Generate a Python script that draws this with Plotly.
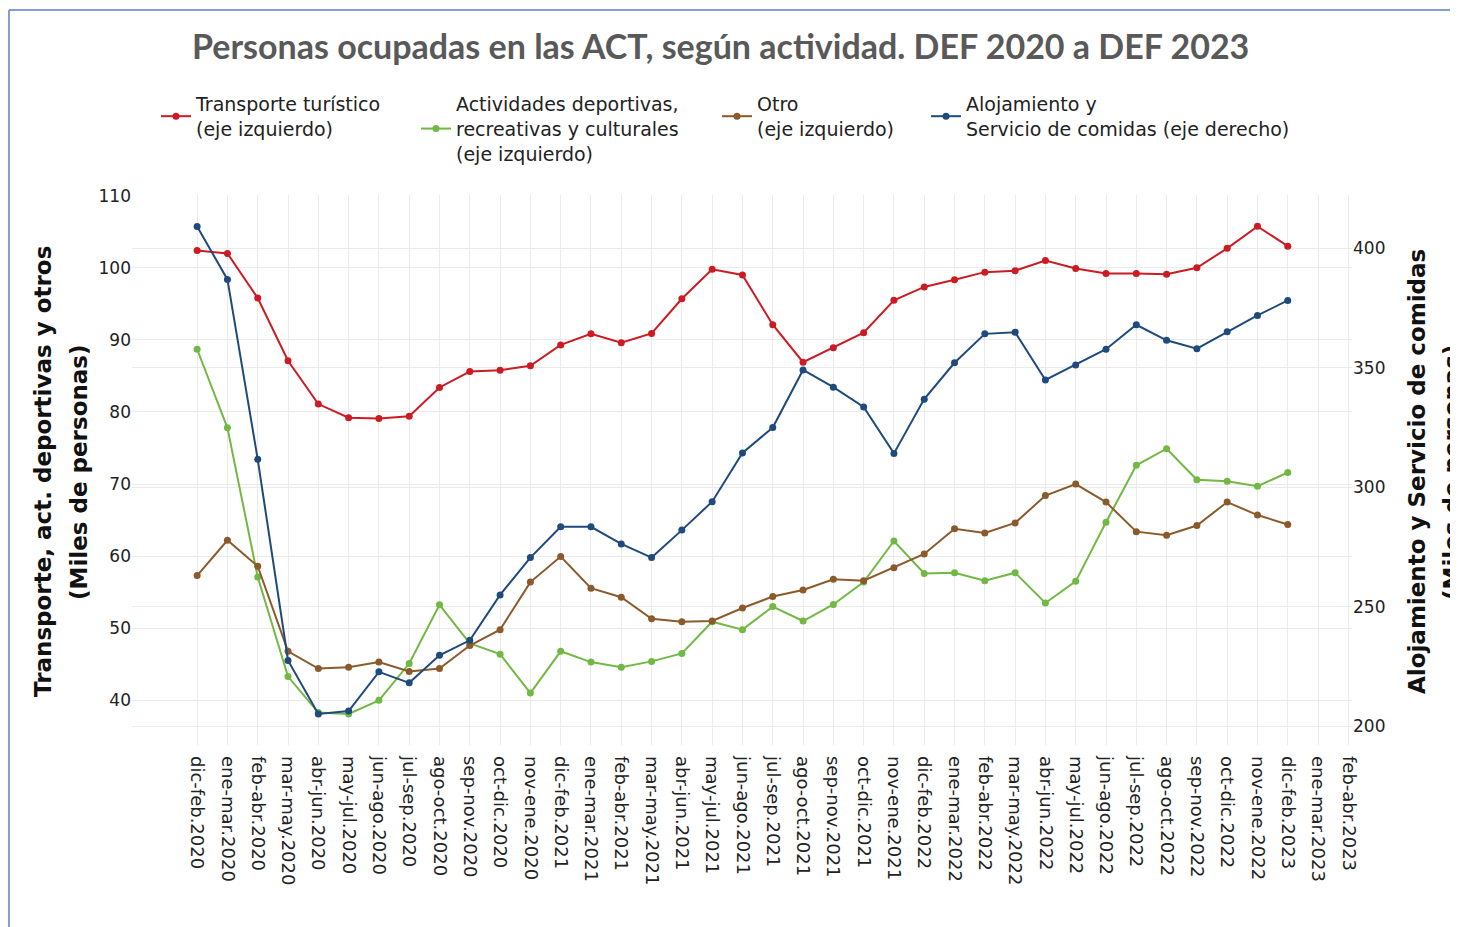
import plotly.graph_objects as go

categorias = [
    "dic-feb.2020", "ene-mar.2020", "feb-abr.2020", "mar-may.2020", "abr-jun.2020",
    "may-jul.2020", "jun-ago.2020", "jul-sep.2020", "ago-oct.2020", "sep-nov.2020",
    "oct-dic.2020", "nov-ene.2020", "dic-feb.2021", "ene-mar.2021", "feb-abr.2021",
    "mar-may.2021", "abr-jun.2021", "may-jul.2021", "jun-ago.2021", "jul-sep.2021",
    "ago-oct.2021", "sep-nov.2021", "oct-dic.2021", "nov-ene.2021", "dic-feb.2022",
    "ene-mar.2022", "feb-abr.2022", "mar-may.2022", "abr-jun.2022", "may-jul.2022",
    "jun-ago.2022", "jul-sep.2022", "ago-oct.2022", "sep-nov.2022", "oct-dic.2022",
    "nov-ene.2022", "dic-feb.2023", "ene-mar.2023", "feb-abr.2023",
]

transporte = [102.4, 102.0, 95.8, 87.1, 81.1, 79.2, 79.1, 79.4, 83.4, 85.6, 85.8, 86.4,
              89.3, 90.85, 89.6, 90.9, 95.7, 99.8, 99.0, 92.1, 86.9, 88.9, 91.0, 95.5,
              97.35, 98.35, 99.4, 99.6, 101.0, 99.9, 99.2, 99.2, 99.1, 100.0, 102.7, 105.75, 103.0]

actividades = [88.7, 77.8, 57.1, 43.3, 38.3, 38.1, 40.0, 45.1, 53.25, 47.9, 46.4, 41.0,
               46.8, 45.3, 44.6, 45.4, 46.5, 50.9, 49.8, 53.0, 51.0, 53.3, 56.4, 62.1,
               57.6, 57.7, 56.6, 57.7, 53.5, 56.5, 64.7, 72.6, 74.9, 70.6, 70.4, 69.7, 71.6]

otro = [57.3, 62.2, 58.6, 46.8, 44.4, 44.6, 45.3, 44.0, 44.4, 47.6, 49.8, 56.4,
        59.95, 55.55, 54.3, 51.3, 50.9, 51.0, 52.8, 54.4, 55.3, 56.8, 56.6, 58.4,
        60.3, 63.8, 63.2, 64.6, 68.4, 70.0, 67.5, 63.4, 62.9, 64.25, 67.5, 65.7, 64.4]

alojamiento = [409.0, 386.9, 311.6, 227.5, 205.1, 206.3, 222.7, 218.1, 229.6, 235.9, 254.9, 270.5,
               283.4, 283.4, 276.2, 270.5, 282.0, 293.9, 314.3, 324.9, 349.0, 341.8, 333.5, 314.1,
               336.8, 352.0, 364.1, 364.8, 344.8, 351.1, 357.7, 367.9, 361.4, 357.9, 365.0, 371.8, 378.1]

nombres = [
    "Transporte turístico<br>(eje izquierdo)",
    "Actividades deportivas,<br>recreativas y culturales<br>(eje izquierdo)",
    "Otro<br>(eje izquierdo)",
    "Alojamiento y<br>Servicio de comidas (eje derecho)",
]
colores = ["#CC1B22", "#72B844", "#8B5A2B", "#1F4A7C"]

# page offset of the plot div (default body margin)
OFF = 8
FW, FH = 1458 - OFF, 927 - OFF
# plot area in page pixels
L, R, T, B = 132, 1352, 195, 745


def px(x):
    return (x - L) / (R - L)


def py(y):
    return (B - y) / (B - T)


n = len(transporte)
x = categorias[:n]

fig = go.Figure()
series = [(transporte, "y"), (actividades, "y"), (otro, "y"), (alojamiento, "y2")]
for i, (vals, ax) in enumerate(series):
    fig.add_trace(go.Scatter(
        x=x, y=vals, name=nombres[i], yaxis=ax, mode="lines+markers",
        line=dict(color=colores[i], width=2),
        marker=dict(color=colores[i], size=7),
        legend="legend" if i == 0 else f"legend{i+1}",
    ))

font_fam = "DejaVu Sans"
leg_x = [156, 416, 717, 926]
leg_common = dict(orientation="v", xanchor="left", yanchor="top",
                  font=dict(family=font_fam, size=19, color="#222"),
                  bgcolor="rgba(0,0,0,0)", borderwidth=0)
legends = {}
for i in range(4):
    key = "legend" if i == 0 else f"legend{i+1}"
    legends[key] = dict(x=px(leg_x[i]), y=py(85), **leg_common)

grid = "#EBEBEB"
fig.update_layout(
    width=FW, height=FH,
    margin=dict(l=L - OFF, r=FW - (R - OFF), t=T - OFF, b=FH - (B - OFF), pad=0),
    paper_bgcolor="white", plot_bgcolor="white",
    showlegend=True,
    xaxis=dict(type="category", categoryorder="array", categoryarray=categorias,
               tickvals=categorias, range=[-2.15, 38.12], tickangle=90,
               showgrid=True, gridcolor=grid, gridwidth=1, zeroline=False,
               showline=False, ticks="", ticklabelstandoff=10,
               tickfont=dict(family=font_fam, size=18, color="#222")),
    yaxis=dict(range=[33.8, 110.1], dtick=10, tick0=0, showgrid=True, gridcolor=grid,
               zeroline=False, showline=False, ticks="",
               tickfont=dict(family=font_fam, size=17, color="#222")),
    yaxis2=dict(range=[192.1, 422.2], dtick=50, tick0=0, overlaying="y", side="right",
                showgrid=True, gridcolor=grid, zeroline=False, showline=False, ticks="",
                tickfont=dict(family=font_fam, size=17, color="#222")),
    **legends,
)

annots = [
    dict(text="<b>Personas ocupadas en las ACT, según actividad. DEF 2020 a DEF 2023</b>",
         x=px(720), y=py(46), textangle=0,
         font=dict(family="Lato", size=34, color="#595959")),
    dict(text="<b>Transporte, act. deportivas y otros</b>", x=px(43), y=py(472), textangle=-90,
         font=dict(family=font_fam, size=23, color="#111")),
    dict(text="<b>(Miles de personas)</b>", x=px(79), y=py(472), textangle=-90,
         font=dict(family=font_fam, size=23, color="#111")),
    dict(text="<b>Alojamiento y Servicio de comidas</b>", x=px(1417), y=py(472), textangle=-90,
         font=dict(family=font_fam, size=23, color="#111")),
    dict(text="<b>(Miles de personas)</b>", x=px(1452), y=py(472), textangle=-90,
         font=dict(family=font_fam, size=23, color="#111")),
]
for a in annots:
    fig.add_annotation(xref="paper", yref="paper", showarrow=False,
                       xanchor="center", yanchor="middle", **a)

border = "#5B7FBF"
fig.add_shape(type="line", xref="paper", yref="paper", x0=px(9), x1=px(9), y0=py(10), y1=py(940),
              line=dict(color=border, width=1.5))
fig.add_shape(type="line", xref="paper", yref="paper", x0=px(9), x1=px(1470), y0=py(10), y1=py(10),
              line=dict(color=border, width=1.5))

fig.write_html("out.html")
